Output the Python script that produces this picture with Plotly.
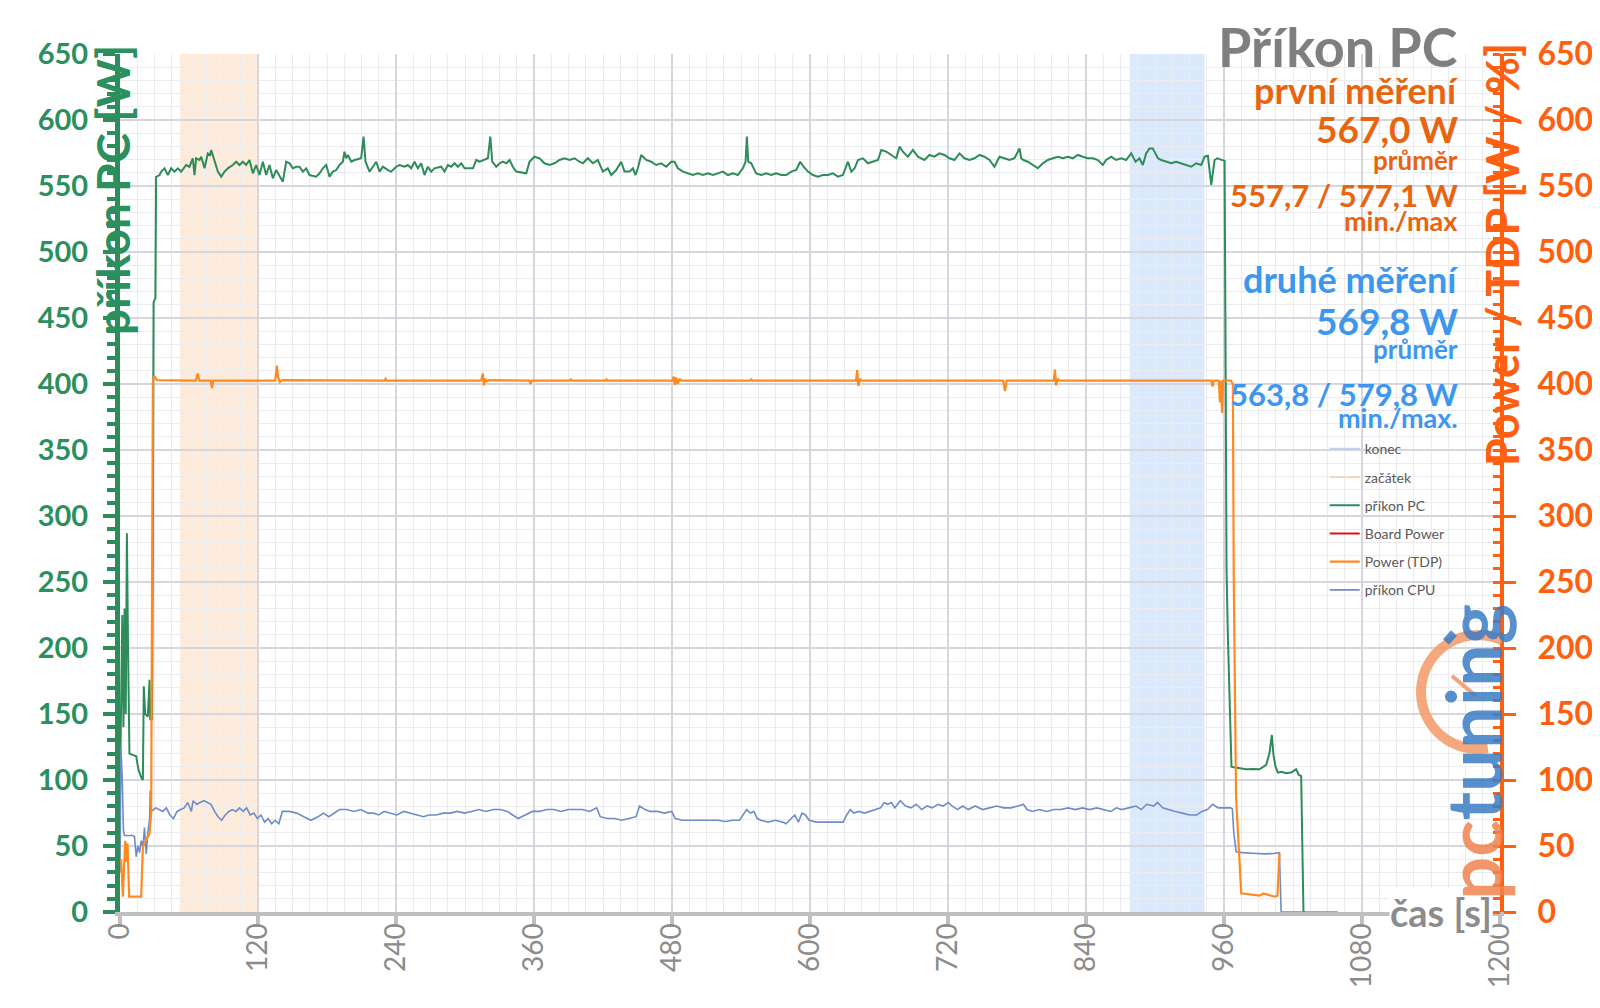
import numpy as np
import plotly.graph_objects as go

FONT = "Lato, 'Open Sans', 'DejaVu Sans', sans-serif"

GREEN = "#2E8B5A"
GREEN_TXT = "#2B8F5E"
ORANGE_AX = "#FF6010"
ORANGE_LINE = "#FF8A1E"
CPU_BLUE = "#6E8DC8"
GRAY_TXT = "#8C8C8C"

# ---------------- data ----------------
# příkon PC (green)  time [s] / power [W]
pc_t = [0, 1, 2, 3, 4, 5, 6, 7, 8.2, 11, 14.1, 16, 18.4, 19.9, 20.7, 21.9, 24.2, 25.7, 26.3, 28, 28.6, 29.2, 30.8, 31.4,
        34.4, 35.8, 38.7, 41.6, 44.5, 47.4, 50.3, 53.2, 57.5, 60.4, 63.3, 64.8, 66.2, 69.1, 70.6, 73.5, 76.4, 78.4, 79.3,
        82.2, 85.1, 88.0, 90.9, 93.8, 98.1, 101.0, 103.9, 106.8, 109.7, 112.6, 115.5, 118.4, 121.3, 124.2, 127.1, 130.0,
        132.9, 135.8, 138.7, 141.6, 144.5, 147.4, 150.3, 153.2, 156.1, 159.0, 161.9, 164.8, 170.6, 173.5, 176.4, 179.3,
        182.2, 185.1, 188.0, 190.9, 193.8, 195.2, 196.7, 198.2, 201.1, 204.0, 209.7, 211.8, 213.5, 217.0, 219.9, 222.8,
        225.7, 228.6, 233.0, 235.8, 240.2, 243.1, 247.4, 250.3, 253.2, 256.1, 259.0, 261.9, 264.8, 267.7, 270.6, 273.5,
        279.3, 282.2, 285.1, 288.0, 290.9, 293.8, 296.7, 299.6, 306.9, 309.8, 312.7, 315.6, 319.9, 322.0, 323.7, 327.2,
        330.1, 333.0, 335.9, 338.8, 341.6, 344.6, 353.3,
        356.1, 360.4, 364.8, 369.1, 373.5, 377.8, 382.2, 386.5, 390.9, 395.2, 399.6, 402.5, 406.8, 411.2, 415.5, 419.9,
        424.2, 427.1, 431.5, 435.8, 438.7, 443.1, 446.0, 448.3, 450.3, 453.2, 457.6, 461.9, 466.3, 470.6, 475.0, 479.3,
        482.2, 485.1, 489.5, 493.8, 498.2, 502.5, 506.9, 511.2, 515.6, 519.9, 524.2, 528.6, 532.9, 537.3, 541.6, 544.0,
        545.1, 546.3, 548.9, 553.2, 557.6, 561.9, 566.3, 570.6, 575.0, 579.3, 583.7, 588.0, 591.5, 594.4, 598.2, 602.5,
        606.9, 611.2, 615.6, 619.9, 624.3, 628.6, 633.0, 635.9, 638.8, 641.7, 646.0, 650.4, 654.7, 659.1, 662.0, 666.3,
        670.7, 675.0, 677.9, 680.8, 685.1, 689.5, 693.8,
        699.5, 703.9, 708.2, 712.6, 716.9, 721.3, 725.6, 730.0, 734.3, 738.7, 743.0, 747.4, 751.7, 756.1, 760.4, 764.8,
        769.1, 773.5, 777.8, 782.2, 783.6, 785.6, 789.4, 793.8, 798.1, 802.5, 806.8, 811.2, 815.5, 819.9, 824.2, 828.6,
        832.9, 837.2, 841.6, 845.9, 850.3, 854.6, 857.5, 861.9, 866.2, 870.6, 874.9, 879.3, 883.1, 886.5, 889.4, 892.3,
        895.2, 898.1, 902.5, 905.4, 909.7, 914.1, 918.4, 922.8, 927.1, 931.5, 935.8, 940.2, 943.1, 946.0, 948.9, 951.8,
        954.1, 957.6, 960.5, 961.5, 962.2, 963.2, 964.6, 966.5, 968.5,
        973.5, 979.3, 985.1, 990.9, 996.7, 999.5, 1001.6, 1003.0, 1004.8, 1006.8, 1009.7, 1014.1, 1018.4, 1022.7,
        1025.1, 1027.1, 1029.1, 1030.6, 1059]
pc_v = [95, 180, 225, 140, 230, 150, 287, 200, 120, 119, 118, 108, 102, 100, 171, 150, 148, 176, 146, 146, 300, 462, 465, 557,
        558.3, 560.9, 563.4, 558.3, 563.4, 560.9, 563.4, 560.9, 565.9, 564.6, 571.0, 558.3, 571.0, 569.7, 572.2, 563.4,
        574.7, 573.5, 577.3, 568.4, 560.9, 557.1, 560.9, 563.4, 565.9, 568.4, 565.9, 568.4, 565.9, 569.7, 559.6, 565.9,
        558.3, 568.4, 558.3, 565.9, 555.8, 562.1, 557.1, 553.3, 568.4, 567.2, 563.4, 564.6, 564.6, 560.9, 563.4, 558.3,
        557.1, 559.6, 563.4, 565.9, 557.1, 560.9, 562.1, 565.9, 568.4, 576.0, 571.0, 573.5, 568.4, 569.7, 571.0, 587.4,
        568.4, 560.9, 564.6, 568.4, 560.9, 564.6, 562.1, 560.9, 564.6, 565.9, 564.6, 565.9, 563.4, 568.4, 563.4, 567.2,
        558.3, 564.6, 560.9, 563.4, 564.6, 560.9, 565.9, 564.6, 567.2, 564.6, 567.2, 563.4, 563.4, 569.7, 568.4, 569.7,
        571.0, 587.4, 568.4, 564.6, 567.2, 568.4, 567.2, 569.7, 564.6, 560.9, 559.6,
        568.4, 572.2, 571.0, 567.2, 565.9, 567.2, 569.7, 571.0, 569.7, 571.0, 568.4, 567.2, 571.0, 567.2, 569.7, 560.9,
        563.4, 558.3, 562.1, 568.4, 560.9, 560.9, 563.4, 558.3, 563.4, 573.5, 569.7, 568.4, 565.9, 567.2, 564.6, 568.4,
        568.4, 563.4, 560.9, 559.6, 558.3, 559.6, 558.3, 559.6, 558.3, 559.6, 560.9, 558.3, 559.6, 558.3, 563.4, 568.4,
        587.4, 568.4, 567.2, 559.6, 558.3, 559.6, 558.3, 559.6, 558.3, 558.3, 560.9, 562.1, 568.4, 564.6, 560.9, 558.3,
        557.1, 558.3, 558.3, 559.6, 557.1, 558.3, 568.4, 560.9, 563.4, 569.7, 571.0, 567.2, 568.4, 569.7, 577.3, 576.0,
        573.5, 571.0, 579.8, 576.0, 572.2, 577.3, 572.2,
        569.7, 573.5, 572.2, 574.7, 573.5, 571.0, 569.7, 574.7, 571.0, 569.7, 571.0, 573.5, 572.2, 569.7, 564.6, 572.2,
        571.0, 569.7, 571.0, 578.5, 571.0, 569.7, 568.4, 565.9, 563.4, 567.2, 569.7, 571.0, 572.2, 571.0, 572.2, 571.0,
        573.5, 572.2, 571.0, 571.0, 569.7, 565.9, 569.7, 572.2, 569.7, 571.0, 569.7, 574.7, 568.4, 571.0, 565.9, 574.7,
        578.5, 578.5, 571.0, 569.7, 568.4, 567.2, 568.4, 567.2, 565.9, 564.6, 567.2, 565.9, 572.2, 572.9, 550.8, 569.7,
        571.0, 569.7, 569.0, 400, 260, 215, 160, 110.1,
        109.6, 108.8, 108.1, 108.3, 108.1, 111.4, 120.2, 134.1, 119.0, 110.1, 105.6, 106.3, 105.1, 105.6, 108.1, 103.8,
        103.0, 0, 0]

# Power (TDP) (orange)
tdp_t = [0, 1, 2.5, 4.5, 5.5, 6.5, 8, 18.4, 19.9, 22.8, 25.7, 27.1, 28, 28.6, 30, 32, 66, 67.5, 69, 79, 80, 81, 135, 136.4,
         137.5, 139, 141, 230, 231, 232, 314, 315.5, 316.5, 317.5, 319, 321, 356, 357, 358, 391, 392, 393, 422, 423, 424,
         480.5, 481.5, 482.5, 483.5, 485, 486.5, 488, 548, 549, 550, 640, 641, 642, 643.5, 645, 768, 769.5, 771, 812, 813,
         814, 815.5, 817, 949, 950, 951, 955.5, 956.5, 957.5, 958.3, 959.2, 966, 967.7, 968.5, 970.5, 975, 980, 985, 991,
         994, 998, 1004, 1006.5, 1008.2]
tdp_v = [38, 40, 11.6, 54, 38, 52, 11.6, 11.6, 49.5, 54.5, 59.6, 75, 250, 403, 406, 403, 402.5, 408, 402.5, 402.5, 397,
         402.5, 402.5, 414, 405, 401.5, 403, 402.5, 404, 402.5, 402.5, 408, 399, 404, 402, 403, 402.5, 400, 402.5, 402.5,
         403.5, 402.5, 402.5, 403.5, 402.5, 402.5, 405.6, 399.3, 405, 400, 404, 402.5, 402.5, 403.5, 402.5, 402.5, 410.6,
         398.5, 403.5, 402.5, 402.5, 394.7, 402.5, 402.5, 411, 399, 404, 402.5, 402.5, 398, 402.5, 402.5, 386, 402.5, 378,
         402.5, 402.5, 400, 251, 87, 14.2, 13.7, 12.9, 12.4, 14.0, 12.9, 11.6, 12.4, 44.5]

# příkon CPU (blue-grey)
cpu_t = [0, 0.8, 2, 3, 3.9, 11.2, 12.6, 14.1, 15.5, 17, 18.4, 19.9, 21.3, 22.8, 24.2, 25.7, 26.3, 27.1, 28.6,
         30.9, 34.0, 37.1, 40.3, 43.4, 46.5, 49.6, 52.7, 55.8, 58.9, 62.0, 63.6, 66.7, 69.8, 72.9, 76.0, 79.1, 82.2, 85.3,
         88.4, 91.5, 94.6, 97.7, 100.8, 103.9, 107.0, 110.1, 113.2, 116.4, 119.5, 122.6, 125.7, 128.8, 131.9, 135.0, 138.1,
         141.2, 147.4, 153.6, 159.8, 166.0, 172.3, 176.9, 181.6, 186.2, 190.9, 197.1, 203.3, 209.5, 215.7, 220.4, 225.1,
         229.7, 234.4, 240.6, 246.8, 253.0, 259.2, 263.9, 268.6, 274.8, 281.0, 287.2, 293.4, 299.6, 305.8, 312.0, 318.2,
         324.5, 330.7, 336.9, 341.5, 346.2, 352.4, 358.6, 364.8, 371.0, 377.3, 383.5, 389.7, 395.9, 402.1, 408.3, 414.5,
         417.6, 423.8, 430.1, 436.3, 442.5, 448.7, 451.8, 456.5, 461.1, 467.3, 473.5, 479.7, 482.9, 489.1, 495.3, 501.5,
         507.6, 513.8, 520.0, 526.3, 532.5, 538.7, 541.8, 544.9, 548.0, 551.1, 554.2, 557.3, 563.5, 569.7, 576.0, 579.1,
         583.7, 586.8, 589.9, 593.0, 596.1, 599.2, 605.5, 611.7, 617.9, 624.1, 628.8, 631.9, 635.0, 638.1, 642.7, 647.4,
         652.0, 656.7, 661.4, 664.5, 667.6, 670.7, 673.8, 678.5, 683.1, 687.8, 692.4, 697.1, 701.7, 706.4, 711.1, 715.7,
         720.4, 723.5, 728.2, 732.8, 737.5, 743.7, 749.9, 756.1, 762.3, 768.5, 774.7, 781.0, 785.6, 788.7, 793.4, 799.6,
         805.8, 812.0, 818.2, 824.4, 830.6, 836.9, 843.1, 849.3, 855.5, 861.7, 866.4, 871.0, 877.2, 883.5, 888.1, 892.8,
         899.0, 902.1, 906.7, 911.4, 917.6, 923.8, 930.0, 936.3, 940.9, 945.6, 950.2, 954.9, 961.1, 965.7,
         967.3, 968.5, 970.6, 976, 985, 995, 1003, 1008.2, 1009.7, 1059]
cpu_v = [30, 125, 100, 62, 58, 58, 57, 42, 50, 45, 54, 49, 64, 44, 60, 70, 92, 77, 77,
         78.9, 77.6, 76.2, 78.9, 73.5, 70.8, 76.2, 77.6, 78.9, 83.0, 76.2, 84.3, 81.6, 83.0, 84.3, 83.0, 81.6, 76.2, 72.2,
         69.5, 73.5, 76.2, 77.6, 76.2, 78.9, 76.2, 78.9, 73.5, 74.9, 70.8, 73.5, 68.1, 70.8, 66.8, 69.5, 66.8,
         76.2, 76.2, 74.9, 72.2, 69.5, 72.2, 74.9, 72.2, 74.9, 77.6, 77.6, 76.2, 77.6, 74.9, 74.9, 73.5,
         76.2, 74.9, 73.5, 76.2, 74.9, 73.5, 72.2, 73.5, 73.5, 74.9, 74.9, 76.2, 74.9, 76.2, 77.6, 76.2,
         77.6, 77.6, 76.2, 73.5, 70.8, 73.5, 76.2, 76.2, 77.6, 77.6, 76.2, 77.6, 77.6, 77.6, 76.2, 78.9,
         72.2, 70.8, 70.8, 69.5, 70.8, 72.2, 80.3, 77.6, 76.2, 76.2, 74.9, 76.2, 70.8, 69.5, 69.5, 69.5,
         69.5, 69.5, 69.5, 68.6, 69.5, 69.5, 73.5, 77.6, 74.9, 76.2, 70.8, 69.5, 68.1, 69.5, 68.1, 66.8,
         70.8, 73.5, 68.1, 74.9, 73.5, 69.5, 68.1, 68.1, 68.1, 68.6, 68.1, 73.5, 77.6, 74.9, 76.2, 74.9,
         76.2, 77.6, 78.9, 83.0, 81.6, 83.0, 78.9, 84.3, 80.3, 78.9, 81.6, 77.6, 80.3, 78.9, 81.6, 80.3,
         83.0, 80.3, 77.6, 80.3, 77.6, 80.3, 77.6, 78.9, 80.3, 78.9, 78.9, 80.3, 81.6, 77.6, 76.2, 77.6,
         76.2, 77.6, 77.6, 78.9, 77.6, 78.9, 77.6, 78.9, 77.6, 76.2, 78.9, 77.6, 78.9, 80.3, 77.6, 81.6,
         80.3, 83.0, 78.9, 77.6, 76.2, 74.9, 73.5, 73.5, 76.2, 77.6, 81.6, 78.9, 78.9, 78.9,
         78, 60, 45.7, 45, 44.5, 44, 44.3, 45, 0, 0]

# highlighted intervals [s]
zacatek_range = [52, 120]
konec_range = [878, 943]

# ---------------- figure ----------------
fig = go.Figure()

fig.add_trace(go.Scatter(x=[None], y=[None], mode="lines", name="konec", legendgroup="g1",
                         line=dict(color="#B9D2F0", width=2)))
fig.add_trace(go.Scatter(x=[None], y=[None], mode="lines", name="začátek", legendgroup="g2",
                         line=dict(color="#F8D6BE", width=2)))
fig.add_trace(go.Scatter(x=pc_t, y=pc_v, mode="lines", name="příkon PC", legendgroup="g3",
                         line=dict(color=GREEN, width=2)))
fig.add_trace(go.Scatter(x=[None], y=[None], mode="lines", name="Board Power", legendgroup="g4",
                         line=dict(color="#E0101A", width=2)))
fig.add_trace(go.Scatter(x=tdp_t, y=tdp_v, mode="lines", name="Power (TDP)", legendgroup="g5",
                         line=dict(color=ORANGE_LINE, width=2.2), yaxis="y2"))
fig.add_trace(go.Scatter(x=cpu_t, y=cpu_v, mode="lines", name="příkon CPU", legendgroup="g6",
                         line=dict(color=CPU_BLUE, width=1.6)))

fig.add_vrect(x0=zacatek_range[0], x1=zacatek_range[1], fillcolor="#FDEBDC", line_width=0, layer="below")
fig.add_vrect(x0=konec_range[0], x1=konec_range[1], fillcolor="#DCE9FA", line_width=0, layer="below")

# the page body adds an 8 px offset, so the figure is 8 px smaller and margins 8 px smaller
fig.update_layout(
    width=1592, height=1000,
    margin=dict(l=112, r=100, t=46, b=96, autoexpand=False),
    paper_bgcolor="white", plot_bgcolor="white",
    font=dict(family=FONT),
    showlegend=True,
    legend=dict(x=0.873, y=0.558, xanchor="left", yanchor="top", bgcolor="rgba(0,0,0,0)",
                font=dict(family=FONT, size=14, color="#595959"), tracegroupgap=7,
                traceorder="grouped"),
    xaxis=dict(range=[0, 1200], tick0=0, dtick=120, tickangle=-90, automargin=False,
               tickfont=dict(family=FONT, size=28, color=GRAY_TXT),
               ticks="outside", ticklen=8, tickwidth=4, tickcolor="#BFBFBF",
               showline=True, linecolor="#BFBFBF", linewidth=4,
               showgrid=True, gridcolor="#D6D6DC", gridwidth=2, zeroline=False,
               ticklabelstandoff=-12,
               minor=dict(dtick=15, showgrid=True, gridcolor="#ECECF0", gridwidth=1)),
    yaxis=dict(range=[0, 650], tick0=0, dtick=50, automargin=False,
               tickfont=dict(family=FONT, size=29, color=GREEN_TXT, weight="bold"),
               ticks="outside", ticklen=12, tickwidth=4, tickcolor=GREEN,
               showline=True, linecolor=GREEN, linewidth=5,
               showgrid=True, gridcolor="#D6D6DC", gridwidth=2, zeroline=False,
               ticklabelstandoff=9,
               minor=dict(dtick=10, ticks="outside", ticklen=8, tickwidth=4, tickcolor=GREEN,
                          showgrid=True, gridcolor="#ECECF0", gridwidth=1)),
    yaxis2=dict(range=[0, 650], tick0=0, dtick=50, overlaying="y", side="right", automargin=False,
                tickfont=dict(family=FONT, size=32, color=ORANGE_AX, weight="bold"),
                ticks="outside", ticklen=12, tickwidth=3, tickcolor=ORANGE_AX,
                showline=True, linecolor=ORANGE_AX, linewidth=4,
                showgrid=False, zeroline=False, ticklabelstandoff=15,
                minor=dict(dtick=10, ticks="inside", ticklen=7, tickwidth=3, tickcolor=ORANGE_AX)),
)


def py2paper(py):
    return (912 - py) / 858


ann = []


def A(text, py, size, color, px=1460):
    ann.append(dict(text=text, x=(px - 120) / 1380, y=py2paper(py), xref="paper", yref="paper",
                    xanchor="right", yanchor="middle", showarrow=False,
                    font=dict(family=FONT, size=size, color=color, weight="bold")))


OR_T = "#E8640E"
BL_T = "#3D97EE"
A("Příkon PC", 46, 54, "#7F7F7F")
A("první měření", 90, 36, OR_T)
A("567,0 W", 129, 37, OR_T)
A("průměr", 160, 26, OR_T)
A("557,7 / 577,1 W", 195, 31, OR_T)
A("min./max", 220, 27, OR_T)
A("druhé měření", 279, 36, BL_T)
A("569,8 W", 320, 37, BL_T)
A("průměr", 349, 26, BL_T)
A("563,8 / 579,8 W", 394, 31, BL_T)
A("min./max.", 417, 27, BL_T)

# axis titles
ann.append(dict(text="příkon PC [W]", x=(113 - 120) / 1380, y=py2paper(190), xref="paper", yref="paper",
                xanchor="center", yanchor="middle", textangle=-90, showarrow=False,
                font=dict(family=FONT, size=46, color=GREEN_TXT, weight="bold")))
ann.append(dict(text="Power / TDP [W / %]", x=(1502 - 120) / 1380, y=py2paper(255), xref="paper", yref="paper",
                xanchor="center", yanchor="middle", textangle=-90, showarrow=False,
                font=dict(family=FONT, size=45, color=ORANGE_AX, weight="bold")))
ann.append(dict(text="čas [s]", x=1193.5, y=0, xref="x", yref="y", xanchor="right", yanchor="middle",
                showarrow=False, bgcolor="white", borderpad=0,
                font=dict(family=FONT, size=38, color=GRAY_TXT, weight="bold")))

# watermark logo (decoration)
ann.append(dict(text='<span style="color:#F08450">pc</span><span style="color:#3A7DC4">tuning</span>',
                x=(1472 - 120) / 1380, y=py2paper(752), xref="paper", yref="paper",
                xanchor="center", yanchor="middle", textangle=-90, showarrow=False, opacity=0.85,
                font=dict(family=FONT, size=76, weight="bold")))
fig.update_layout(annotations=ann)


def p2p(px, py):
    return (px - 120) / 1380, (912 - py) / 858


ang = np.radians(np.linspace(65, 280, 45))
pts = [p2p(1478 + 57 * np.cos(a), 692 - 57 * np.sin(a)) for a in ang]
arc = "M " + " L ".join(f"{x:.5f},{y:.5f}" for x, y in pts)
fig.add_shape(type="path", path=arc, xref="paper", yref="paper",
              line=dict(color="#F39A66", width=10), opacity=0.85, layer="above")
n0 = p2p(1452, 676)
n1 = p2p(1476, 696)
fig.add_shape(type="line", x0=n0[0], y0=n0[1], x1=n1[0], y1=n1[1], xref="paper", yref="paper",
              line=dict(color="#F39A66", width=4), opacity=0.9)
b0 = p2p(1446, 642)
b1 = p2p(1454, 633)
fig.add_shape(type="line", x0=b0[0], y0=b0[1], x1=b1[0], y1=b1[1], xref="paper", yref="paper",
              line=dict(color="#3A7DC4", width=8), opacity=0.85)

fig.write_html("out.html")
